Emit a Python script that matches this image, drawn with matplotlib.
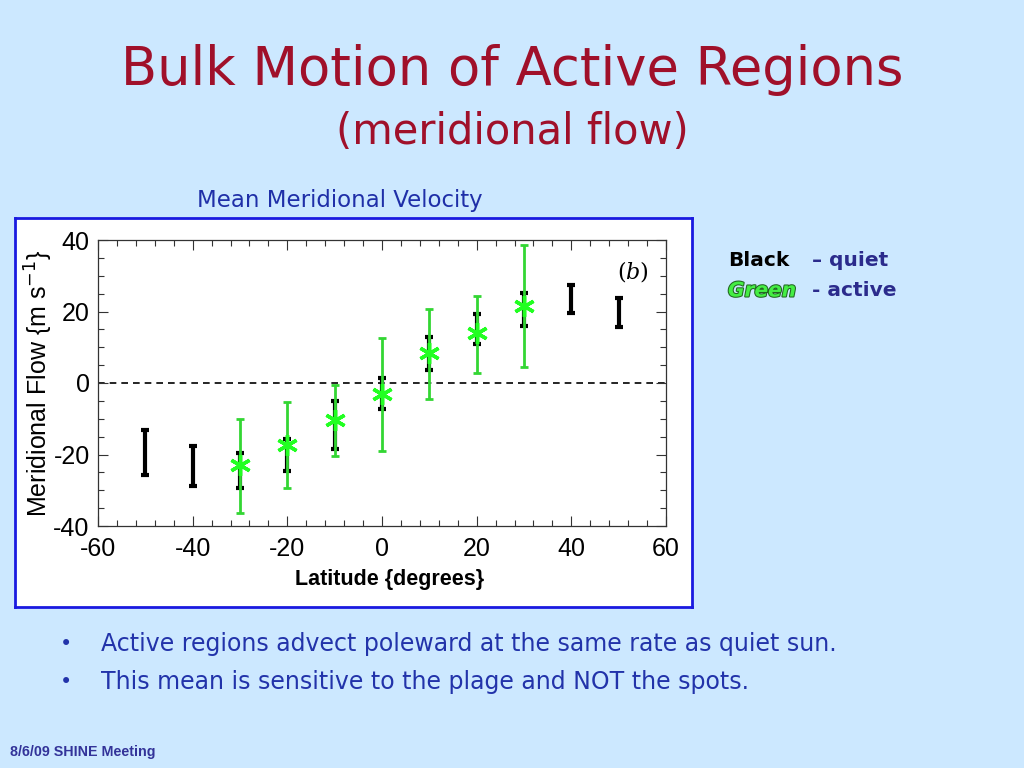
import matplotlib
matplotlib.use("Agg")
import matplotlib.pyplot as plt
import matplotlib.patheffects as pe
from matplotlib.ticker import MultipleLocator
import numpy as np

plt.rcParams["axes.unicode_minus"] = False

# Quiet sun (black) error bars: latitude, low, high
quiet_lat = [-50, -40, -30, -20, -10, 0, 10, 20, 30, 40, 50]
quiet_low = [-25.7, -28.7, -29.4, -24.5, -18.5, -7.4, 3.6, 10.8, 15.9, 19.5, 15.8]
quiet_high = [-13.1, -17.6, -19.5, -15.7, -5.0, 1.5, 13.0, 19.3, 25.1, 27.3, 23.9]

# Active regions (green)
active_lat = [-30, -20, -10, 0, 10, 20, 30]
active_val = [-23.0, -17.3, -10.3, -3.1, 8.3, 13.9, 21.5]
active_low = [-36.3, -29.3, -20.3, -18.9, -4.5, 2.9, 4.6]
active_high = [-10.1, -5.4, -0.6, 12.7, 20.7, 24.3, 38.6]

xticks = [-60, -40, -20, 0, 20, 40, 60]
yticks = [-40, -20, 0, 20, 40]

BG = "#CCE8FF"
fig = plt.figure(figsize=(10.24, 7.68), dpi=100, facecolor=BG)
W, H = 1024, 768

def fx(px):
    return px / W

def fy(py):
    return 1 - py / H

# Titles
fig.text(fx(512), fy(70), "Bulk Motion of Active Regions", ha="center", va="center",
         fontsize=38, color="#A0102A", family="DejaVu Sans")
fig.text(fx(512), fy(132), "(meridional flow)", ha="center", va="center",
         fontsize=30, color="#A0102A", family="DejaVu Sans")
fig.text(fx(340), fy(201), "Mean Meridional Velocity", ha="center", va="center",
         fontsize=16.5, color="#1F2FA8", family="DejaVu Sans")

# White panel with blue border
panel = fig.add_axes([fx(15), fy(607), fx(692 - 15), (607 - 218) / H])
panel.set_xticks([]); panel.set_yticks([])
panel.set_facecolor("white")
for s in panel.spines.values():
    s.set_edgecolor("#1A1AE0")
    s.set_linewidth(2)
panel.set_zorder(0)

ax = fig.add_axes([fx(98), fy(526), fx(666 - 98), (526 - 240) / H])
ax.set_zorder(1)
ax.set_facecolor("white")
ax.set_xlim(-60, 60)
ax.set_ylim(-40, 40)
ax.set_xticks(xticks)
ax.set_yticks(yticks)
ax.xaxis.set_minor_locator(MultipleLocator(4))
ax.yaxis.set_minor_locator(MultipleLocator(5))
ax.tick_params(which="both", direction="in", top=True, right=True, color="#333333")
ax.tick_params(which="major", length=7, width=0.8, labelsize=18, pad=8)
ax.tick_params(which="minor", length=4, width=0.8)
ax.tick_params(axis="y", which="major", pad=6)
for s in ax.spines.values():
    s.set_linewidth(0.9)
    s.set_color("#333333")
for lab in ax.get_xticklabels() + ax.get_yticklabels():
    lab.set_family("Liberation Sans")

ax.axhline(0, color="black", ls=(0, (4, 3)), lw=1.2, zorder=1)

# black quiet bars
qc = (np.array(quiet_low) + np.array(quiet_high)) / 2
qe = (np.array(quiet_high) - np.array(quiet_low)) / 2
ax.errorbar(quiet_lat, qc, yerr=qe, fmt="none", ecolor="black", elinewidth=3,
            capsize=3, capthick=3, zorder=2)

# green active bars
av = np.array(active_val)
ax.errorbar(active_lat, av, yerr=[av - np.array(active_low), np.array(active_high) - av],
            fmt="none", ecolor="#33D633", elinewidth=2, capsize=3, capthick=2, zorder=3)
ax.plot(active_lat, av, ls="none", marker=(6, 2, 0), markersize=15, mew=2.5,
        color="#22FF22", zorder=4)

ax.text(0.97, 0.935, r"($\mathit{b}$)", transform=ax.transAxes, ha="right", va="top",
        fontsize=16, family="DejaVu Serif", math_fontfamily="dejavuserif")

ax.set_ylabel("Meridional Flow {m s$^{-1}$}", fontsize=18, family="Liberation Sans",
              labelpad=-1)
fig.text(fx(390), fy(580), "Latitude {degrees}", ha="center", va="center",
         fontsize=15.5, fontweight="bold", family="Liberation Sans")

# legend text
fig.text(fx(728), fy(260), "Black", ha="left", va="center", fontsize=14.5,
         fontweight="bold", color="black", family="DejaVu Sans")
fig.text(fx(812), fy(260), "– quiet", ha="left", va="center", fontsize=14.5,
         fontweight="bold", color="#2B2B8C", family="DejaVu Sans")
fig.text(fx(728), fy(291), "Green", ha="left", va="center", fontsize=14.5,
         fontweight="bold", style="italic", color="#44EE44", family="DejaVu Sans",
         path_effects=[pe.withStroke(linewidth=1.5, foreground="#226622")])
fig.text(fx(812), fy(291), "- active", ha="left", va="center", fontsize=14.5,
         fontweight="bold", color="#2B2B8C", family="DejaVu Sans")

# bullets
bullets = ["Active regions advect poleward at the same rate as quiet sun.",
           "This mean is sensitive to the plage and NOT the spots."]
for i, b in enumerate(bullets):
    y = 644 + 38 * i
    fig.text(fx(60), fy(y), "•", ha="left", va="center", fontsize=15, color="#2233AA")
    fig.text(fx(101), fy(y), b, ha="left", va="center", fontsize=17, color="#2233AA",
             family="DejaVu Sans")

fig.text(fx(10), fy(752), "8/6/09 SHINE Meeting", ha="left", va="center", fontsize=10.3,
         fontweight="bold", color="#333399", family="Liberation Sans")

fig.savefig("out.png", dpi=100, facecolor=BG)
